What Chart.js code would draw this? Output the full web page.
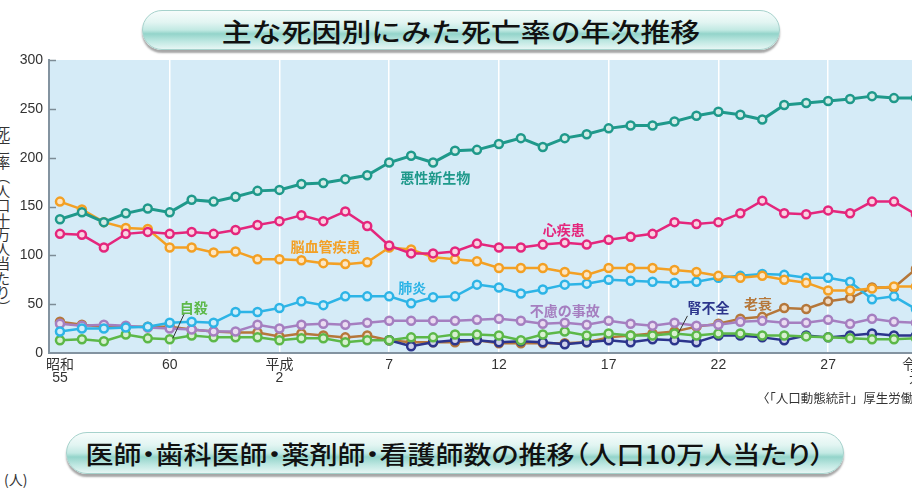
<!DOCTYPE html>
<html lang="ja">
<head>
<meta charset="utf-8">
<script src="https://cdn.jsdelivr.net/npm/chart.js@4.4.1/dist/chart.umd.min.js"></script>
<style>
html, body { margin:0; padding:0; background:#fff; width:912px; height:491px; overflow:hidden; }
body { position:relative; font-family:"Noto Sans CJK JP", "Noto Sans", sans-serif; color:#222; }
#chart { position:absolute; left:0; top:0; }
.pill { position:absolute; border-radius:22px; border:1px solid #a6d2cc; box-sizing:border-box;
  background:linear-gradient(to bottom, #f6fcfb 0%, #e2f5f2 30%, #c2e9e3 50%, #93d4ca 60%, #bfe8e2 80%, #e6f6f4 100%);
  box-shadow:0 3px 2px rgba(0,0,0,0.35);
  display:flex; align-items:center; justify-content:center; color:#111; font-weight:500; }
.pill span { display:inline-block; white-space:nowrap; }
#t1 { left:142px; top:10px; width:638px; height:40px; font-size:26px; }
#t1 span { transform:scaleX(1.15); }
#t2 { left:66px; top:432px; width:778px; height:42px; font-size:25px; }
#t2 span { transform:scaleX(1.12); font-feature-settings:"palt"; }
#ytitle { position:absolute; left:-5px; top:126px; writing-mode:vertical-rl; text-orientation:upright;
  font-size:14.5px; line-height:1; color:#333; }
#source { position:absolute; left:757px; top:388px; font-size:12.5px; white-space:nowrap; color:#333; }
#unit { position:absolute; left:4px; top:469px; font-size:14px; color:#333; }
</style>
</head>
<body>
<div class="pill" id="t1"><span>主な死因別にみた死亡率の年次推移</span></div>
<div id="ytitle">死亡率（人口十万人当たり）</div>
<canvas id="chart" width="935" height="400"></canvas>
<div id="source">〈「人口動態統計」厚生労働省〉</div>
<div class="pill" id="t2"><span>医師・歯科医師・薬剤師・看護師数の推移（人口10万人当たり）</span></div>
<div id="unit">(人)</div>
<script>
// 年次（昭和55年〜令和元年）
const years = [1980, 1981, 1982, 1983, 1984, 1985, 1986, 1987, 1988, 1989,
               1990, 1991, 1992, 1993, 1994, 1995, 1996, 1997, 1998, 1999,
               2000, 2001, 2002, 2003, 2004, 2005, 2006, 2007, 2008, 2009,
               2010, 2011, 2012, 2013, 2014, 2015, 2016, 2017, 2018, 2019];

const cancer = [137, 144, 134, 143, 148, 144, 157, 155, 160, 166,
                167, 173, 174, 178, 182, 195, 202, 195, 207, 208,
                214, 220, 211, 220, 224, 230, 233, 233, 237, 243,
                247, 244, 239, 254, 256, 258, 260, 263, 261, 261];
const heart = [122, 121, 108, 122, 124, 122, 124, 122, 126, 131,
               135, 141, 135, 145, 130, 110, 102, 102, 104, 112,
               108, 108, 111, 113, 111, 116, 119, 122, 134, 132,
               134, 143, 156, 143, 142, 146, 143, 155, 155, 142];
const cerebro = [155, 147, 134, 128, 127, 108, 108, 103, 104, 96,
                 96, 95, 92, 91, 93, 108, 106, 98, 96, 94,
                 87, 87, 87, 83, 80, 87, 87, 87, 85, 83,
                 79, 77, 79, 75, 72, 64, 64, 66, 68, 68];
const pneumonia = [22, 25, 25, 26, 27, 31, 32, 31, 42, 42,
                   46, 53, 49, 58, 58, 58, 51, 57, 58, 70,
                   67, 61, 65, 70, 71, 75, 74, 73, 72, 73,
                   77, 79, 81, 80, 77, 77, 73, 55, 58, 45];
const accident = [30, 28, 29, 28, 26, 25, 24, 22, 22, 29,
                  25, 29, 30, 29, 31, 33, 33, 33, 33, 34,
                  35, 33, 30, 31, 29, 33, 30, 28, 31, 28,
                  29, 32, 33, 31, 31, 34, 30, 35, 32, 31];
const suicide = [13, 14, 12, 19, 15, 14, 18, 16, 16, 16,
                 13, 15, 15, 11, 13, 13, 16, 16, 19, 19,
                 18, 13, 19, 22, 18, 20, 18, 18, 20, 18,
                 20, 20, 18, 18, 17, 16, 15, 14, 14, 15];
const renal = [null, null, null, null, null, null, null, null, null, null,
               null, null, null, null, null, 13, 7, 11, 13, 13,
               11, 12, 11, 9, 11, 13, 11, 14, 13, 11,
               18, 18, 16, 13, 18, 16, 18, 20, 18, 18];
const senility = [32, 29, 27, 27, 27, 27, 24, 22, 21, 21,
                  17, 20, 18, 16, 18, 13, 11, 11, 11, 13,
                  10, 10, 10, 10, 11, 16, 18, 20, 22, 27,
                  30, 35, 37, 46, 45, 53, 56, 67, 67, 86];

const seriesNames = ['悪性新生物', '心疾患', '脳血管疾患', '肺炎', '不慮の事故', '自殺', '腎不全', '老衰'];
const seriesValues = [cancer, heart, cerebro, pneumonia, accident, suicide, renal, senility];

const tickYears = [1980, 1985, 1990, 1995, 2000, 2005, 2010, 2015, 2019];
const tickLabels = [['昭和', '55'], '60', ['平成', '2'], '7', '12', '17', '22', '27', ['令和', '元']];

// styles
const lineColors = ['#1f998b', '#e4267c', '#f3a024', '#2db4e6', '#a57fc0', '#5cb848', '#2c358c', '#b5773a'];
const dotFills   = ['#d4ece8', '#f9d3e3', '#fde6c4', '#d1eefa', '#eadcf1', '#d8f0d2', '#cfd2ea', '#efdcc6'];
const lineWidths = [3, 2.5, 2.5, 2.5, 2.5, 2.5, 2.5, 2.5];

// where the series names sit (data coordinates) and leader lines
const labelSpots = [
  { x: 1997.1, y: 180 }, { x: 2002.95, y: 126 }, { x: 1992.1, y: 108.5 }, { x: 1996.05, y: 66.5 },
  { x: 2003.0, y: 43 }, { x: 1986.1, y: 46 }, { x: 2009.55, y: 46 }, { x: 2011.8, y: 51 }
];
const leaders = [
  { from: [1985.68, 41], to: [1985.14, 15] },
  { from: [2008.59, 38], to: [2008.18, 20.5] }
];

const tickFont = { family: '"Liberation Sans", "Noto Sans CJK JP", sans-serif', size: 14, lineHeight: 0.95 };

const decor = {
  id: 'decor',
  beforeDraw(chart) {
    const { ctx, chartArea: a } = chart;
    ctx.save();
    ctx.fillStyle = '#d5ebf7';
    ctx.fillRect(a.left, a.top, a.right - a.left, a.bottom - a.top);
    ctx.restore();
  },
  beforeDatasetsDraw(chart) {
    const { ctx, chartArea: a, scales } = chart;
    ctx.save();
    ctx.strokeStyle = '#7d8c96';
    ctx.lineWidth = 1.5;
    scales.y.ticks.forEach(t => {
      if (t.value === 0) return;
      const py = Math.round(scales.y.getPixelForValue(t.value)) + 0.5;
      ctx.beginPath();
      ctx.moveTo(a.left, py);
      ctx.lineTo(a.left + 7, py);
      ctx.stroke();
    });
    ctx.restore();
  },
  afterDatasetsDraw(chart) {
    const { ctx, scales } = chart;
    ctx.save();
    ctx.strokeStyle = '#333';
    ctx.lineWidth = 1;
    leaders.forEach(l => {
      ctx.beginPath();
      ctx.moveTo(scales.x.getPixelForValue(l.from[0]), scales.y.getPixelForValue(l.from[1]));
      ctx.lineTo(scales.x.getPixelForValue(l.to[0]), scales.y.getPixelForValue(l.to[1]));
      ctx.stroke();
    });
    ctx.font = 'bold 14px "Noto Sans CJK JP", sans-serif';
    ctx.textAlign = 'center';
    ctx.textBaseline = 'middle';
    seriesNames.forEach((name, i) => {
      const s = labelSpots[i];
      ctx.fillStyle = lineColors[i];
      ctx.fillText(name, scales.x.getPixelForValue(s.x), scales.y.getPixelForValue(s.y));
    });
    ctx.restore();
  }
};

const datasets = seriesNames.map((name, i) => ({
  label: name,
  data: years.map((yr, j) => ({ x: yr, y: seriesValues[i][j] })),
  borderColor: lineColors[i],
  borderWidth: lineWidths[i],
  pointRadius: 4,
  pointBorderWidth: 2.5,
  pointBackgroundColor: dotFills[i],
  pointBorderColor: lineColors[i],
  tension: 0,
  spanGaps: false
}));

new Chart(document.getElementById('chart'), {
  type: 'line',
  data: { datasets: datasets },
  options: {
    responsive: false,
    devicePixelRatio: 1,
    animation: false,
    layout: { padding: { top: 60, right: 6, left: 0, bottom: 0 } },
    plugins: { legend: { display: false }, tooltip: { enabled: false } },
    scales: {
      x: {
        type: 'linear',
        min: 1979.5,
        max: 2019.5,
        afterBuildTicks: s => { s.ticks = tickYears.map(v => ({ value: v })); },
        afterFit: s => { s.height = 47; },
        ticks: {
          autoSkip: false,
          maxRotation: 0,
          padding: 5,
          color: '#333',
          font: tickFont,
          callback: (v, i) => tickLabels[i]
        },
        grid: {
          drawTicks: false,
          lineWidth: 1.5,
          color: c => (c.tick && (c.tick.value === 1980 || c.tick.value === 2019)) ? 'rgba(0,0,0,0)' : '#ffffff'
        },
        border: { color: '#8393a0', width: 2 }
      },
      y: {
        min: 0,
        max: 300,
        afterFit: s => { s.width = 49; },
        ticks: { stepSize: 50, padding: 6, color: '#333', font: tickFont },
        grid: { drawOnChartArea: false, drawTicks: false },
        border: { color: '#8393a0', width: 2 }
      }
    }
  },
  plugins: [decor]
});
</script>
</body>
</html>
